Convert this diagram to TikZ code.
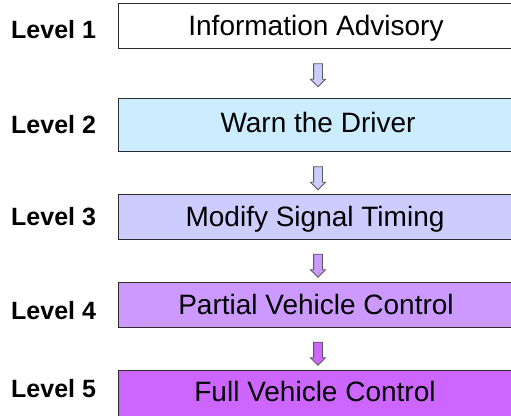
\documentclass[tikz,border=0pt]{standalone}
\usepackage{fontspec}
\setmainfont{Liberation Sans}
\usetikzlibrary{shapes.arrows}

\definecolor{lvOne}{HTML}{FFFFFF}
\definecolor{lvTwo}{HTML}{CCECFF}
\definecolor{lvThree}{HTML}{CCCCFF}
\definecolor{lvFour}{HTML}{CC99FF}
\definecolor{lvFive}{HTML}{CC66FF}
\definecolor{edge}{HTML}{2B2B2B}

\begin{document}
\begin{tikzpicture}[x=1pt,y=-1pt,
  levelbox/.style={draw=edge, line width=1pt, minimum width=396pt,
                   anchor=north west, inner sep=0pt},
  boxtext/.style={anchor=base, inner sep=0pt,
                  font=\fontsize{28}{32}\selectfont},
  leveltag/.style={anchor=base west, inner sep=0pt,
                   font=\bfseries\fontsize{25}{28}\selectfont},
  downarrow/.style={single arrow, shape border rotate=270, draw=black!65,
                    line width=0.9pt, minimum height=23pt, inner sep=4pt,
                    single arrow head extend=3pt, single arrow head indent=0pt}]
  \useasboundingbox (0,0) rectangle (511,415);
  \clip (0,0) rectangle (511,415);

  % stacked level boxes
  \node[levelbox, fill=lvOne,   minimum height=45pt] (b1) at (118,3)   {};
  \node[levelbox, fill=lvTwo,   minimum height=53pt] (b2) at (118,98)  {};
  \node[levelbox, fill=lvThree, minimum height=45pt] (b3) at (118,194) {};
  \node[levelbox, fill=lvFour,  minimum height=45pt] (b4) at (118,282) {};
  \node[levelbox, fill=lvFive,  minimum height=50pt] (b5) at (118,370) {};

  % box captions
  \node[boxtext] (t1) at (316,35)  {Information Advisory};
  \node[boxtext] (t2) at (318,132) {Warn the Driver};
  \node[boxtext] (t3) at (315,226) {Modify Signal Timing};
  \node[boxtext] (t4) at (316,314) {Partial Vehicle Control};
  \node[boxtext] (t5) at (315,401) {Full Vehicle Control};

  % level tags on the left
  \node[leveltag] (l1) at (11,38.5)  {Level 1};
  \node[leveltag] (l2) at (11,133.5) {Level 2};
  \node[leveltag] (l3) at (11,225.5) {Level 3};
  \node[leveltag] (l4) at (11,319.5) {Level 4};
  \node[leveltag] (l5) at (11,397.5) {Level 5};

  % block arrows between levels
  \node[downarrow, fill=lvThree] (a1) at (318,73)    {};
  \node[downarrow, fill=lvThree] (a2) at (318,176)   {};
  \node[downarrow, fill=lvFour]  (a3) at (318,263.5) {};
  \node[downarrow, fill=lvFive]  (a4) at (318,351.5) {};
\end{tikzpicture}
\end{document}
